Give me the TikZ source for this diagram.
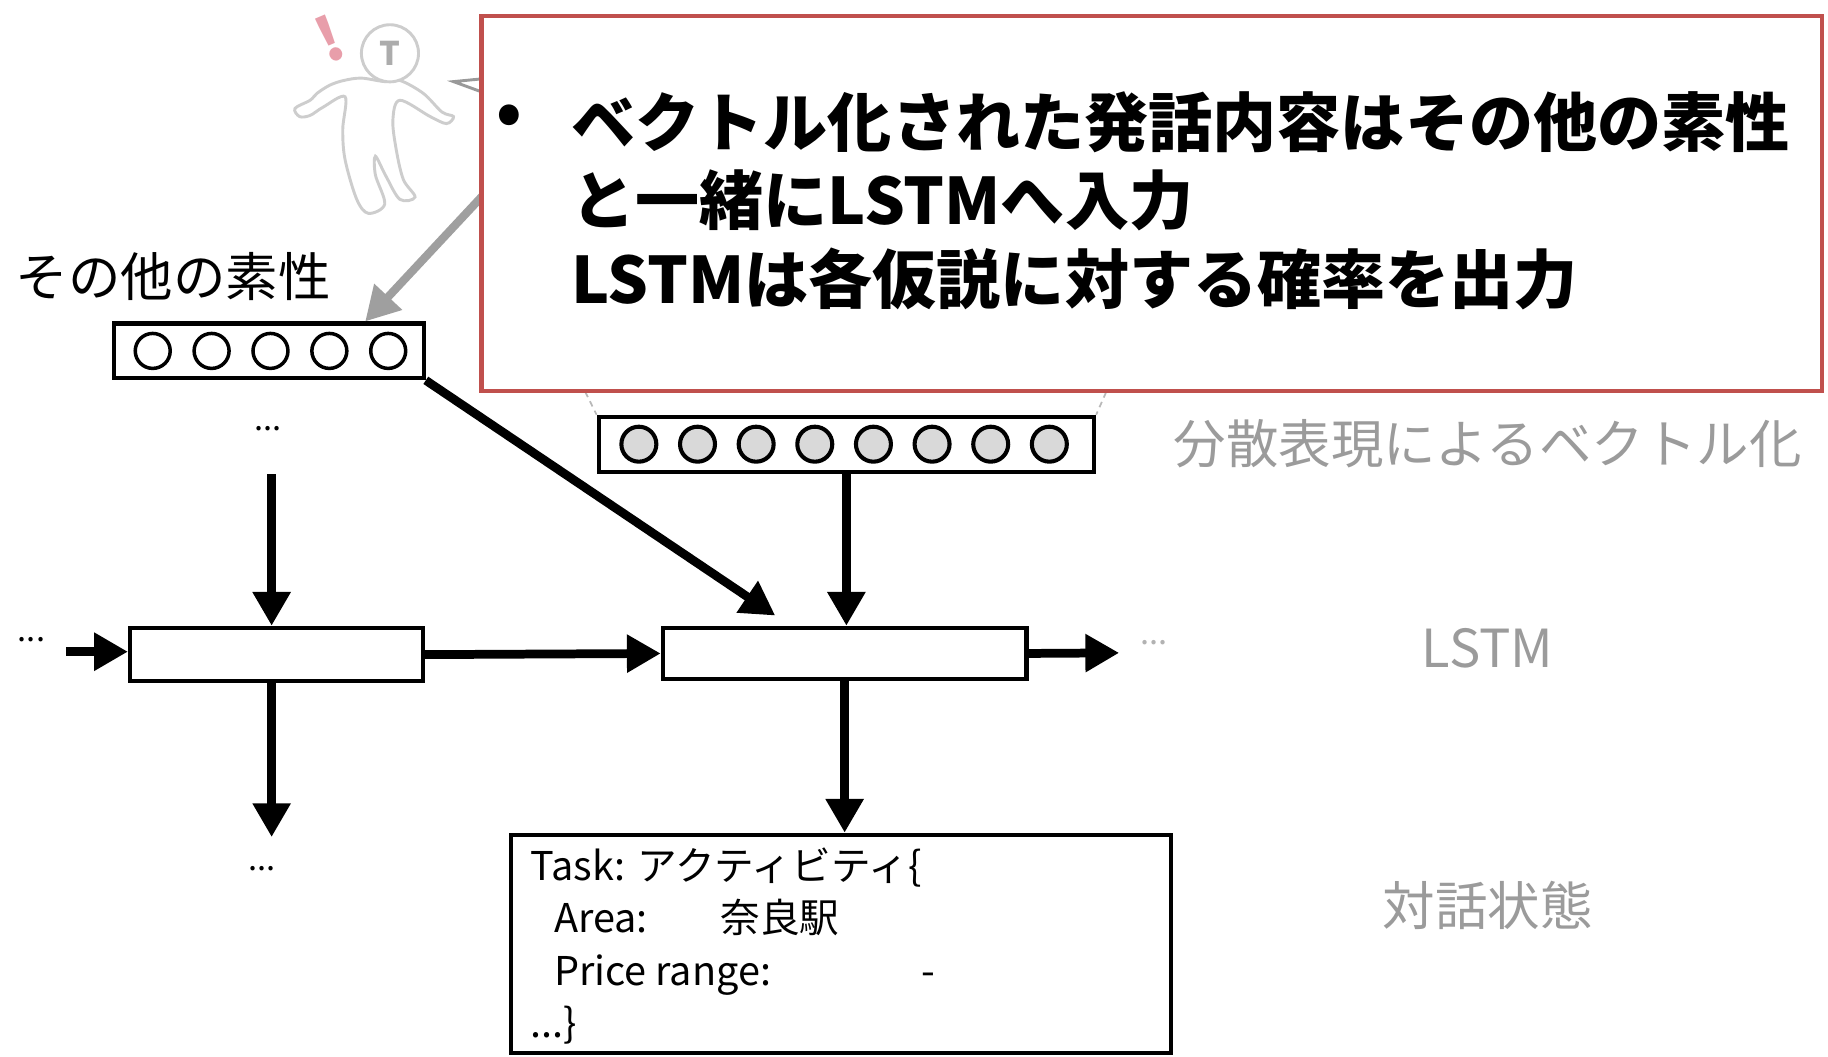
\documentclass[tikz,border=0pt]{standalone}
\usepackage{fontspec}
\setmainfont{Noto Sans CJK JP}
\usetikzlibrary{arrows.meta,calc}
\definecolor{calloutred}{RGB}{192,80,77}
\definecolor{labelgray}{RGB}{155,155,155}
\definecolor{figgray}{RGB}{205,205,205}
\definecolor{bangpink}{RGB}{232,158,170}
\definecolor{unitgray}{RGB}{217,217,217}

\begin{document}
\begin{tikzpicture}[x=1pt,y=-1pt,
    vec/.style={draw,line width=3.5pt,inner sep=0pt},
    unit/.style={circle,draw,line width=3pt,fill=white,minimum size=30pt,inner sep=0pt},
    cell/.style={draw,line width=3.5pt,fill=white,inner sep=0pt},
    flow/.style={line width=7.5pt,-{Triangle[width=31pt,length=29pt]}},
    side/.style={text=labelgray,font=\fontsize{45}{54}\selectfont},
    dots/.style={font=\fontsize{28}{28}\selectfont,inner sep=0pt}]
  \useasboundingbox (0,0) rectangle (1568,906);

  % speaker
  \draw[figgray,line width=2.5pt,fill=white] plot[smooth cycle,tension=0.55] coordinates {
    (310,67) (295,69) (283,73) (272,80) (266,86) (253,93) (257,100) (266,99)
    (277,92) (296,83) (294,111) (296,137) (306,171) (316,183) (330,175)
    (322,150) (322,134) (331,151) (343,171) (356,169) (346,154) (340,129)
    (337,103) (343,86) (369,100) (383,106) (389,100) (379,96) (363,80)
    (343,69) (330,70)};
  \node[circle,draw=figgray,line width=2.5pt,fill=white,minimum size=49pt] (head) at (334.5,45.7) {};
  \node[text=gray!65,font=\fontsize{28}{28}\selectfont\bfseries] (initial) at (head.center) {T};
  \node[text=bangpink,font=\fontsize{52}{52}\selectfont\bfseries,rotate=23] (bang) at (283,33) {!};
  \draw[gray!80,line width=2.5pt] (430,66) -- (389,70) -- (430,85);

  % vectors
  \node[vec,minimum width=266pt,minimum height=47pt] (feat) at (230.5,301) {};
  \foreach \i in {0,...,4}
    \node[unit] (f\i) at (131+50.5*\i,301) {};
  \node[vec,minimum width=425pt,minimum height=47pt] (emb) at (726,381) {};
  \foreach \i in {0,...,7}
    \node[unit,fill=unitgray,line width=3.5pt] (e\i) at (548+50.3*\i,381) {};
  \node[font=\fontsize{45}{54}\selectfont] (featLabel) at (148.5,237) {その他の素性};

  \coordinate (hint) at (440,140);
  \coordinate (bubbleL) at (494,320);
  \coordinate (bubbleR) at (956,320);
  \draw[flow,gray!75,line width=7pt] (hint) -- ($(feat.north east)+(-52,0)$);
  \draw[gray!55,line width=1.5pt,dash pattern=on 5pt off 4pt] (bubbleL) -- (emb.north west);
  \draw[gray!55,line width=1.5pt,dash pattern=on 5pt off 4pt] (bubbleR) -- (emb.north east);

  % callout
  \node[draw=calloutred,line width=3.5pt,fill=white,minimum width=1150pt,minimum height=321pt,inner sep=0pt] (callout) at (988,174.5) {};
  \node[font=\fontsize{55}{55}\selectfont\bfseries] (bullet) at (437,103) {•};
  \node[anchor=north west,inner sep=0pt,align=left,font=\fontsize{55}{67.5}\selectfont\bfseries] (msg) at (490,78)
    {ベクトル化された発話内容はその他の素性\\と一緒にLSTMへ入力\\LSTMは各仮説に対する確率を出力};

  % LSTM cells and state
  \node[cell,minimum width=251pt,minimum height=46pt] (lstmA) at (237,561.5) {};
  \node[cell,minimum width=312pt,minimum height=44pt] (lstmB) at (724.5,560.5) {};
  \node[cell,minimum width=566pt,minimum height=187pt] (state) at (721.5,809.5) {};
  \node[anchor=north west,inner sep=0pt,align=left,font=\fontsize{34}{45}\selectfont] (slots) at (455,727)
    {Task: アクティビティ\{\\\hspace*{20pt}\makebox[143pt][l]{Area:}奈良駅\\\hspace*{20pt}\makebox[315pt][l]{Price range:}-\\...\}};

  \coordinate (inTop) at (233,407);
  \coordinate (outA) at (233,718);
  \coordinate (inA) at (57,559);
  \coordinate (outB) at (960,560);
  \coordinate (diagEnd) at (665,528);
  \draw[flow] (inTop) -- (inTop |- lstmA.north);
  \draw[flow] (inTop |- lstmA.south) -- (outA);
  \draw[flow] (inA) -- (inA -| lstmA.west);
  \draw[flow] (lstmA.east) -- (lstmB.west);
  \draw[flow] (lstmB.east) -- (outB);
  \draw[flow] (feat.south east) -- (diagEnd);
  \draw[flow] (emb.south) -- (emb.south |- lstmB.north);
  \draw[flow] (lstmB.south) -- (lstmB.south |- state.north);

  \node[dots] (dotsTop) at (230,368) {...};
  \node[dots] (dotsBot) at (225,745) {...};
  \node[dots] (dotsL) at (27,549) {...};
  \node[dots,text=gray!60] (dotsR) at (990,551) {...};

  \node[side] (embLabel) at (1276,381) {分散表現によるベクトル化};
  \node[side] (lstmLabel) at (1276,556) {LSTM};
  \node[side] (stateLabel) at (1276,777) {対話状態};
\end{tikzpicture}
\end{document}
